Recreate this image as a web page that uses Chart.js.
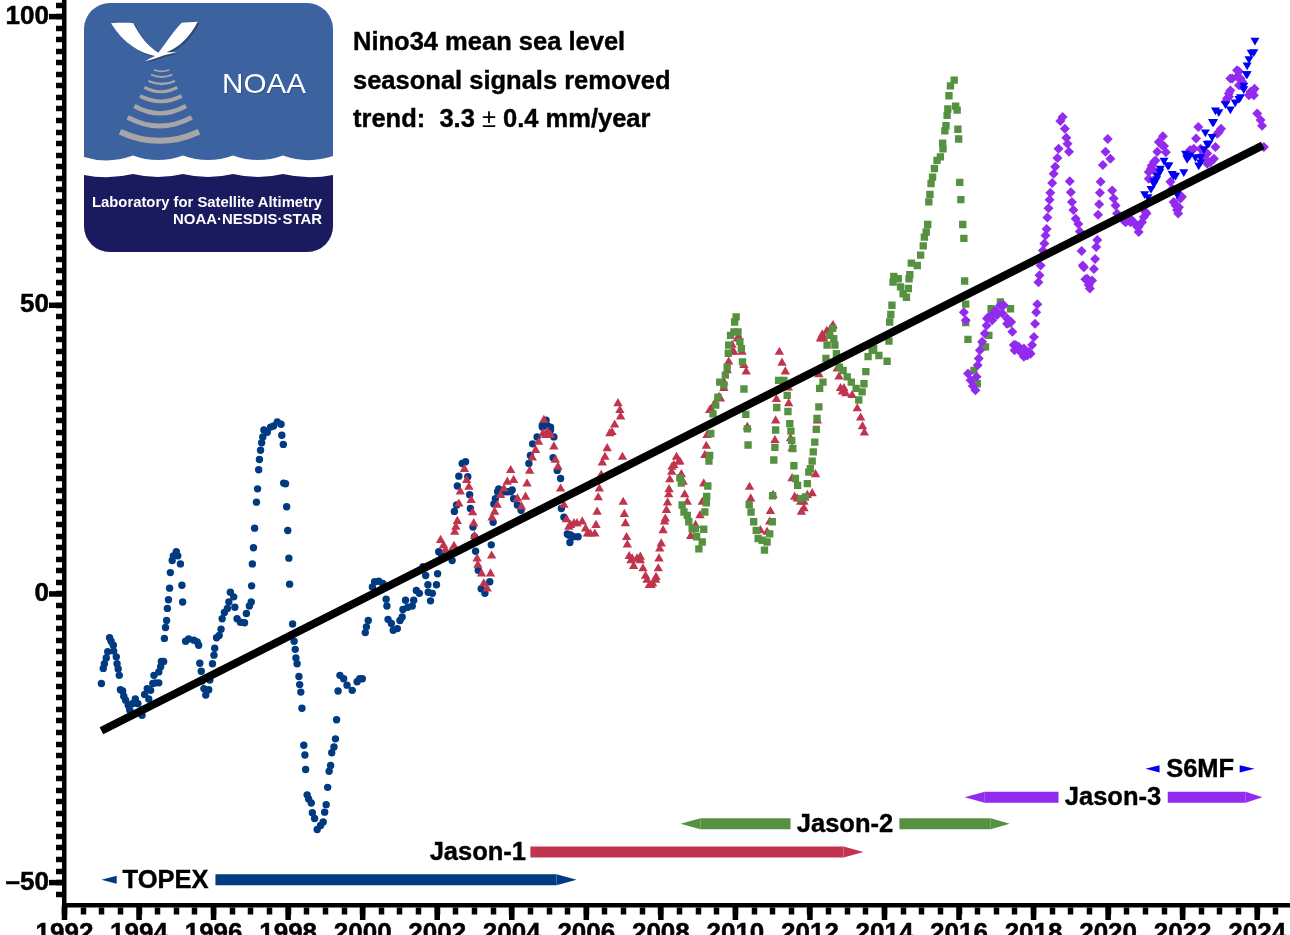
<!DOCTYPE html>
<html><head><meta charset="utf-8"><title>Nino34 mean sea level</title>
<script src="https://cdn.jsdelivr.net/npm/chart.js@4"></script>
<style>html,body{margin:0;padding:0;background:#fff;overflow:hidden}#wrap{position:relative;width:1290px;height:935px}svg{position:absolute;left:0;top:0;pointer-events:none}</style>
</head><body><div id="wrap"><canvas id="c"></canvas>
<svg width="1290" height="260" viewBox="0 0 1290 260">
<defs><clipPath id="lg"><rect x="84" y="3" width="249" height="249" rx="26"/></clipPath></defs>
<g clip-path="url(#lg)">
<rect x="84" y="3" width="249" height="249" fill="#3D62A0"/>
<path d="M84,157 Q108,164.5 133,155.5 Q158,164.5 183,155.5 Q208,164.5 233,155.5 Q258,164.5 283,155.5 Q308,164.5 333,156 L333,260 L84,260 Z" fill="#fff"/>
<path d="M84,175 Q108,180 133,174 Q158,180 183,174 Q208,180 233,174 Q258,180 283,174 Q308,180 333,175 L333,260 L84,260 Z" fill="#1A1A5E"/>
</g>
<g transform="scale(0.33333)">
<path d="M339,74 C366,72 391,72 406,74 C426,114 451,144 481,162 C496,144 521,104 551,72 L599,69 C576,114 546,144 506,161 L536,161 L501,169 C481,176 461,184 441,187 L471,172 C426,164 376,134 339,74 Z" fill="#1d3358" opacity=".55"/>
<path d="M333,70 C360,68 385,68 400,70 C420,110 445,140 475,158 C490,140 515,100 545,68 L593,65 C570,110 540,140 500,157 L530,157 L495,165 C475,172 455,180 435,183 L465,168 C420,160 370,130 333,70 Z" fill="#fff"/>
<g fill="none" stroke="#A6A6A6">
<path d="M462,209 Q485,219 508,209" stroke-width="5"/>
<path d="M453,224 Q485,238 517,224" stroke-width="6"/>
<path d="M445,243 Q485,261 525,243" stroke-width="7"/>
<path d="M433,262 Q483,288 532,262" stroke-width="9"/>
<path d="M420,288 Q483,320 545,288" stroke-width="11"/>
<path d="M403,318 Q480,362 558,318" stroke-width="13"/>
<path d="M383,352 Q479,404 575,352" stroke-width="15"/>
<path d="M360,395 Q478,450 597,395" stroke-width="18"/>
</g></g>
<text x="222" y="92.7" font-family="Liberation Sans" font-size="27.5" fill="#24406f" opacity=".6" textLength="84" lengthAdjust="spacingAndGlyphs" transform="translate(0.8,1)">NOAA</text>
<text x="222" y="92.7" font-family="Liberation Sans" font-size="27.5" fill="#fff" textLength="84" lengthAdjust="spacingAndGlyphs">NOAA</text>
<text x="92" y="206.5" font-family="Liberation Sans" font-weight="bold" font-size="14.2" fill="#fff" textLength="230" lengthAdjust="spacingAndGlyphs">Laboratory for Satellite Altimetry</text>
<text x="173" y="224" font-family="Liberation Sans" font-weight="bold" font-size="14.2" fill="#fff" textLength="149" lengthAdjust="spacingAndGlyphs">NOAA·NESDIS·STAR</text>
</svg></div>
<script>
const titleLines = ["Nino34 mean sea level","seasonal signals removed","trend:  3.3 ± 0.4 mm/year"];

const topex = [[1992.99,-15.5],[1993.04,-12.9],[1993.07,-12.1],[1993.12,-11.1],[1993.16,-10.0],[1993.21,-7.6],[1993.25,-8.2],[1993.31,-8.9],[1993.32,-9.9],[1993.39,-10.9],[1993.41,-12.1],[1993.44,-13.0],[1993.47,-14.1],[1993.50,-16.6],[1993.56,-16.8],[1993.59,-17.7],[1993.64,-18.4],[1993.71,-19.3],[1993.75,-20.1],[1993.82,-19.0],[1993.90,-18.2],[1993.97,-19.0],[1994.08,-21.0],[1994.15,-17.4],[1994.22,-16.4],[1994.26,-18.2],[1994.31,-16.7],[1994.37,-15.5],[1994.40,-14.1],[1994.44,-15.4],[1994.53,-15.4],[1994.53,-13.5],[1994.58,-12.6],[1994.60,-11.7],[1994.66,-11.7],[1994.68,-7.7],[1994.71,-5.8],[1994.74,-4.6],[1994.76,-2.5],[1994.79,-1.0],[1994.82,1.0],[1994.84,3.7],[1994.89,5.8],[1994.92,6.6],[1995.00,7.3],[1995.04,6.6],[1995.11,5.2],[1995.15,1.5],[1995.17,-1.4],[1995.25,-8.2],[1995.33,-7.8],[1995.47,-8.0],[1995.56,-8.3],[1995.60,-8.9],[1995.63,-12.0],[1995.67,-13.4],[1995.69,-15.1],[1995.74,-16.4],[1995.79,-17.5],[1995.87,-16.6],[1995.90,-14.9],[1995.97,-12.1],[1996.01,-10.6],[1996.03,-9.4],[1996.08,-7.6],[1996.15,-7.2],[1996.20,-6.1],[1996.23,-4.3],[1996.29,-3.2],[1996.37,-2.5],[1996.41,-1.4],[1996.45,0.3],[1996.54,-0.5],[1996.57,-2.3],[1996.63,-4.3],[1996.72,-4.9],[1996.83,-5.0],[1996.88,-3.4],[1996.96,-2.1],[1997.01,-1.4],[1997.02,1.4],[1997.04,5.2],[1997.07,8.0],[1997.10,11.4],[1997.15,15.9],[1997.18,18.2],[1997.21,21.5],[1997.23,23.3],[1997.26,24.9],[1997.29,26.2],[1997.32,27.2],[1997.35,28.4],[1997.44,28.0],[1997.53,28.9],[1997.61,29.1],[1997.71,29.8],[1997.81,29.4],[1997.83,27.5],[1997.87,25.9],[1997.88,19.2],[1997.93,19.1],[1997.96,15.1],[1997.99,11.0],[1998.02,6.2],[1998.04,1.7],[1998.12,-5.2],[1998.16,-8.2],[1998.19,-9.6],[1998.21,-11.1],[1998.24,-12.1],[1998.29,-14.3],[1998.31,-15.7],[1998.34,-17.0],[1998.37,-19.8],[1998.42,-26.2],[1998.45,-27.9],[1998.47,-30.4],[1998.51,-34.8],[1998.55,-35.5],[1998.62,-36.2],[1998.65,-37.9],[1998.71,-38.9],[1998.78,-40.8],[1998.87,-40.1],[1998.94,-39.5],[1998.98,-37.8],[1999.02,-36.5],[1999.06,-33.5],[1999.10,-30.7],[1999.14,-29.7],[1999.17,-27.5],[1999.23,-26.5],[1999.27,-25.1],[1999.30,-21.8],[1999.34,-16.8],[1999.39,-14.1],[1999.49,-14.7],[1999.58,-15.8],[1999.72,-16.7],[1999.85,-15.2],[1999.92,-14.7],[1999.99,-14.7],[2000.07,-6.7],[2000.10,-5.7],[2000.15,-4.6],[2000.26,1.2],[2000.32,2.1],[2000.43,2.2],[2000.54,1.8],[2000.63,-0.9],[2000.65,-2.1],[2000.68,-4.4],[2000.77,-5.1],[2000.82,-6.3],[2000.93,-6.0],[2001.00,-4.6],[2001.06,-4.0],[2001.08,-2.7],[2001.15,-1.1],[2001.21,-2.3],[2001.33,-2.1],[2001.37,-1.1],[2001.44,0.6],[2001.52,0.1],[2001.62,4.7],[2001.69,3.2],[2001.75,1.6],[2001.76,0.3],[2001.82,-1.2],[2001.87,0.1],[2001.98,1.6],[2002.01,3.5],[2002.04,7.3],[2002.10,7.0],[2002.20,6.5],[2002.40,5.8],[2002.46,14.3],[2002.52,15.4],[2002.54,18.7],[2002.58,20.4],[2002.67,22.6],[2002.76,22.9],[2002.82,20.3],[2002.87,17.2],[2002.89,14.8],[2002.96,11.6],[2003.00,9.9],[2003.03,7.4],[2003.10,4.1],[2003.18,0.9],[2003.28,0.1],[2003.41,2.1],[2003.45,8.5],[2003.50,12.4],[2003.52,15.6],[2003.56,16.5],[2003.62,17.7],[2003.65,18.2],[2003.74,17.7],[2003.79,17.7],[2003.88,17.7],[2003.97,17.7],[2004.01,18.0],[2004.05,16.5],[2004.15,15.4],[2004.25,14.5],[2004.46,22.6],[2004.50,24.0],[2004.56,26.0],[2004.68,27.2],[2004.82,28.9],[2004.82,29.2],[2004.92,30.1],[2004.95,29.2],[2005.04,28.9],[2005.04,28.4],[2005.13,27.2],[2005.11,23.6],[2005.22,21.4],[2005.31,20.0],[2005.33,14.8],[2005.40,13.3],[2005.49,10.4],[2005.53,10.2],[2005.56,8.9],[2005.58,10.2],[2005.66,9.9],[2005.78,9.9]];

const jason1 = [[2002.09,9.3],[2002.17,8.4],[2002.22,7.6],[2002.36,7.3],[2002.45,8.3],[2002.47,10.7],[2002.50,11.6],[2002.54,12.6],[2002.58,15.6],[2002.62,17.7],[2002.73,21.6],[2002.79,19.7],[2002.85,18.5],[2002.91,16.2],[2002.95,14.1],[2002.98,12.2],[2003.00,10.0],[2003.07,6.1],[2003.09,5.0],[2003.19,3.5],[2003.25,1.8],[2003.34,0.9],[2003.43,3.5],[2003.46,6.6],[2003.47,13.2],[2003.54,14.2],[2003.61,15.4],[2003.70,17.1],[2003.79,18.2],[2003.88,19.4],[2003.97,21.4],[2004.05,19.7],[2004.15,16.5],[2004.26,15.1],[2004.37,16.8],[2004.41,19.1],[2004.48,21.3],[2004.55,23.6],[2004.64,24.9],[2004.72,26.3],[2004.84,27.8],[2004.86,30.1],[2004.91,27.5],[2004.96,28.1],[2005.04,27.5],[2005.13,25.5],[2005.17,23.2],[2005.24,22.0],[2005.31,18.2],[2005.40,15.4],[2005.47,12.9],[2005.53,11.6],[2005.58,11.9],[2005.67,12.2],[2005.75,12.2],[2005.89,12.5],[2005.98,11.3],[2006.03,10.4],[2006.11,10.4],[2006.23,10.4],[2006.26,11.9],[2006.29,14.2],[2006.32,16.7],[2006.35,18.2],[2006.40,20.6],[2006.43,22.7],[2006.50,23.7],[2006.56,25.2],[2006.63,27.8],[2006.69,28.0],[2006.76,29.3],[2006.85,33.0],[2006.90,31.8],[2006.92,30.7],[2006.97,23.7],[2006.99,15.9],[2007.02,13.8],[2007.05,12.2],[2007.08,9.8],[2007.10,8.5],[2007.15,6.5],[2007.20,5.8],[2007.23,6.1],[2007.27,4.8],[2007.36,6.1],[2007.45,5.8],[2007.45,6.4],[2007.52,4.4],[2007.59,3.1],[2007.63,2.4],[2007.69,1.5],[2007.74,1.5],[2007.78,1.8],[2007.86,2.4],[2007.87,2.9],[2007.93,4.4],[2007.95,6.1],[2007.97,7.8],[2008.01,8.7],[2008.06,11.0],[2008.10,12.5],[2008.12,13.0],[2008.15,14.5],[2008.18,15.8],[2008.21,17.2],[2008.22,18.1],[2008.24,19.8],[2008.29,21.1],[2008.30,22.0],[2008.35,22.3],[2008.42,23.7],[2008.48,22.9],[2008.51,22.9],[2008.55,20.7],[2008.60,19.4],[2008.64,17.2],[2008.71,15.9],[2008.80,10.0],[2008.93,11.9],[2009.05,13.6],[2009.11,15.9],[2009.15,19.1],[2009.18,24.0],[2009.22,25.6],[2009.24,27.5],[2009.31,31.8],[2009.35,32.0],[2009.45,33.0],[2009.56,34.1],[2009.60,33.8],[2009.69,35.6],[2009.69,36.7],[2009.78,38.7],[2009.82,40.2],[2009.91,41.9],[2009.91,43.1],[2009.96,41.9],[2010.05,44.2],[2010.09,44.5],[2010.18,41.9],[2010.23,39.6],[2010.29,38.5],[2010.32,28.9],[2010.38,18.5],[2010.41,16.5],[2010.67,11.0],[2010.85,10.7],[2010.92,12.5],[2010.94,14.3],[2011.01,17.1],[2011.06,26.6],[2011.08,30.0],[2011.10,33.7],[2011.18,41.9],[2011.25,40.0],[2011.34,38.5],[2011.42,35.7],[2011.43,33.0],[2011.48,26.9],[2011.52,25.2],[2011.52,20.0],[2011.59,16.8],[2011.66,16.5],[2011.75,15.9],[2011.77,14.2],[2011.84,14.8],[2011.84,15.9],[2011.93,17.1],[2012.06,17.4],[2012.15,20.7],[2012.20,30.0],[2012.24,38.0],[2012.28,44.2],[2012.33,44.9],[2012.37,44.2],[2012.45,45.5],[2012.51,45.4],[2012.60,46.3],[2012.62,46.5],[2012.73,39.0],[2012.78,37.6],[2012.82,35.6],[2012.87,35.0],[2012.91,35.6],[2012.96,34.7],[2013.13,34.4],[2013.27,32.1],[2013.36,30.5],[2013.41,29.0],[2013.46,27.9]];

const jason2 = [[2008.51,20.1],[2008.55,19.2],[2008.57,15.4],[2008.62,14.2],[2008.71,13.6],[2008.75,12.5],[2008.84,11.3],[2008.93,11.3],[2008.96,9.9],[2009.02,7.8],[2009.11,9.0],[2009.15,11.2],[2009.18,14.2],[2009.22,15.8],[2009.23,16.9],[2009.26,18.7],[2009.29,23.0],[2009.31,24.0],[2009.34,27.8],[2009.40,31.2],[2009.47,32.7],[2009.53,34.1],[2009.58,36.7],[2009.69,36.2],[2009.73,37.9],[2009.78,39.3],[2009.81,41.7],[2009.82,43.1],[2009.87,44.8],[2009.96,45.4],[2009.98,47.1],[2010.02,48.0],[2010.07,45.4],[2010.12,43.7],[2010.16,42.5],[2010.19,40.2],[2010.23,35.5],[2010.28,31.1],[2010.32,28.6],[2010.34,25.8],[2010.37,15.5],[2010.42,14.2],[2010.49,12.5],[2010.56,11.0],[2010.61,9.6],[2010.72,9.3],[2010.78,7.6],[2010.85,9.0],[2010.92,10.4],[2010.99,12.5],[2011.00,17.0],[2011.03,23.2],[2011.06,25.4],[2011.08,28.4],[2011.11,32.3],[2011.16,37.0],[2011.30,37.0],[2011.39,34.4],[2011.41,31.6],[2011.46,29.5],[2011.49,28.2],[2011.51,26.6],[2011.54,25.2],[2011.57,22.2],[2011.61,20.0],[2011.67,18.8],[2011.75,16.5],[2011.88,16.8],[2011.93,19.1],[2011.97,21.1],[2012.01,21.7],[2012.06,23.0],[2012.09,24.6],[2012.13,26.3],[2012.17,28.5],[2012.19,30.4],[2012.24,32.4],[2012.26,35.6],[2012.35,36.7],[2012.43,40.8],[2012.46,43.1],[2012.53,44.8],[2012.61,46.0],[2012.64,44.2],[2012.67,43.1],[2012.71,41.6],[2012.79,39.3],[2012.89,38.7],[2013.00,37.6],[2013.11,36.7],[2013.24,35.6],[2013.31,33.6],[2013.40,35.0],[2013.45,36.4],[2013.50,38.5],[2013.56,41.1],[2013.67,42.2],[2013.71,42.5],[2013.85,41.3],[2014.07,40.3],[2014.12,43.8],[2014.14,47.1],[2014.17,48.4],[2014.20,50.0],[2014.23,54.0],[2014.25,55.0],[2014.37,54.6],[2014.43,53.2],[2014.50,52.0],[2014.59,51.4],[2014.64,52.9],[2014.66,54.6],[2014.68,55.3],[2014.72,57.3],[2014.88,56.9],[2014.97,58.7],[2015.04,60.3],[2015.07,61.8],[2015.12,62.7],[2015.16,64.0],[2015.19,67.9],[2015.22,69.2],[2015.25,71.1],[2015.29,72.2],[2015.34,73.7],[2015.41,75.1],[2015.50,75.7],[2015.57,77.1],[2015.56,78.1],[2015.62,80.2],[2015.65,81.1],[2015.68,82.9],[2015.70,84.0],[2015.73,86.3],[2015.77,88.0],[2015.87,89.0],[2015.91,84.5],[2015.95,83.8],[2015.97,80.5],[2015.99,78.8],[2016.02,71.3],[2016.05,68.3],[2016.10,64.0],[2016.13,61.6],[2016.15,54.2],[2016.18,50.2],[2016.18,47.0],[2016.24,44.1],[2016.40,38.7],[2016.49,36.4],[2016.63,42.8],[2016.71,42.8],[2016.80,44.8],[2016.86,49.4],[2017.11,50.6],[2017.33,46.8],[2017.38,49.4]];

const jason3 = [[2016.13,48.8],[2016.18,47.4],[2016.24,38.2],[2016.31,37.0],[2016.37,36.0],[2016.44,35.3],[2016.47,37.6],[2016.50,39.6],[2016.53,40.8],[2016.56,42.2],[2016.62,43.7],[2016.69,45.1],[2016.74,46.5],[2016.75,47.7],[2016.80,48.0],[2016.89,47.4],[2016.89,48.3],[2016.98,49.1],[2017.02,48.3],[2017.11,50.0],[2017.16,48.6],[2017.20,50.0],[2017.29,46.8],[2017.29,47.7],[2017.40,47.1],[2017.43,45.4],[2017.47,43.1],[2017.49,42.2],[2017.52,43.1],[2017.60,42.8],[2017.65,41.9],[2017.74,41.1],[2017.74,42.5],[2017.83,41.3],[2017.88,41.9],[2017.92,41.6],[2017.96,43.1],[2018.01,44.5],[2018.04,46.8],[2018.07,48.8],[2018.10,50.2],[2018.13,54.0],[2018.16,55.2],[2018.19,56.9],[2018.25,59.5],[2018.29,60.7],[2018.32,62.1],[2018.35,63.2],[2018.37,65.2],[2018.40,66.8],[2018.43,68.3],[2018.45,69.5],[2018.50,71.2],[2018.54,72.8],[2018.58,74.0],[2018.64,75.5],[2018.67,77.1],[2018.72,81.9],[2018.78,82.6],[2018.84,80.6],[2018.88,79.0],[2018.91,78.0],[2018.95,76.6],[2018.97,71.5],[2019.00,69.6],[2019.03,67.9],[2019.07,66.5],[2019.13,65.0],[2019.20,64.1],[2019.24,62.8],[2019.29,59.4],[2019.32,56.9],[2019.35,56.6],[2019.39,54.5],[2019.44,54.6],[2019.48,53.5],[2019.51,52.9],[2019.57,54.3],[2019.62,56.3],[2019.65,58.0],[2019.68,60.1],[2019.71,61.3],[2019.73,65.7],[2019.76,67.5],[2019.78,69.5],[2019.80,71.4],[2019.86,74.3],[2019.93,76.6],[2019.99,78.8],[2020.06,75.4],[2020.11,69.9],[2020.15,68.5],[2020.20,67.3],[2020.24,65.9],[2020.42,64.7],[2020.47,64.4],[2020.60,64.4],[2020.60,65.0],[2020.69,64.4],[2020.78,63.6],[2020.82,62.7],[2020.82,63.6],[2020.91,64.4],[2020.96,65.3],[2021.00,66.2],[2021.03,65.9],[2021.08,67.9],[2021.09,71.9],[2021.09,73.1],[2021.15,73.7],[2021.17,74.2],[2021.23,74.8],[2021.27,73.1],[2021.27,75.1],[2021.32,76.6],[2021.36,78.3],[2021.45,77.7],[2021.47,79.3],[2021.50,77.6],[2021.55,76.5],[2021.67,71.4],[2021.72,70.2],[2021.76,67.9],[2021.81,67.3],[2021.85,69.6],[2021.85,66.5],[2021.88,65.9],[2021.90,67.0],[2021.94,68.5],[2021.98,68.8],[2022.12,76.0],[2022.20,76.9],[2022.30,77.1],[2022.36,78.9],[2022.42,80.9],[2022.48,77.1],[2022.52,76.0],[2022.57,75.7],[2022.66,76.3],[2022.66,74.5],[2022.70,74.8],[2022.75,74.8],[2022.84,75.4],[2022.88,77.4],[2022.93,79.7],[2022.97,80.0],[2023.03,80.6],[2023.15,85.2],[2023.19,85.8],[2023.24,86.1],[2023.24,86.7],[2023.28,87.2],[2023.28,89.3],[2023.33,89.3],[2023.46,89.6],[2023.46,90.7],[2023.51,90.5],[2023.51,88.1],[2023.55,88.1],[2023.55,89.3],[2023.60,88.7],[2023.78,86.4],[2023.82,86.7],[2023.82,87.0],[2023.87,87.0],[2023.91,86.4],[2023.93,87.5],[2024.00,83.2],[2024.09,82.1],[2024.13,81.1],[2024.18,77.4]];

const s6mf = [[2020.98,69.3],[2021.07,68.8],[2021.15,70.2],[2021.23,71.1],[2021.23,71.6],[2021.30,71.9],[2021.32,72.5],[2021.39,73.2],[2021.40,73.7],[2021.50,75.1],[2021.60,74.3],[2021.63,74.3],[2021.72,72.8],[2021.76,72.5],[2021.81,72.5],[2021.85,69.3],[2022.03,73.1],[2022.08,76.3],[2022.12,75.4],[2022.19,76.0],[2022.34,75.7],[2022.43,74.3],[2022.48,74.8],[2022.48,75.7],[2022.57,77.1],[2022.61,80.0],[2022.66,78.0],[2022.70,78.1],[2022.79,79.2],[2022.80,81.8],[2022.83,81.8],[2022.88,83.8],[2022.97,83.5],[2023.15,84.9],[2023.28,84.0],[2023.41,85.2],[2023.51,85.8],[2023.55,86.1],[2023.64,87.5],[2023.64,88.1],[2023.71,90.1],[2023.73,90.1],[2023.73,91.6],[2023.78,92.7],[2023.84,93.8],[2023.91,93.9],[2023.94,95.9]];

const trendYears = [1992.99, 2024.15];
const trendValues = [-23.7, 77.7];

const missionNames  = ["TOPEX","Jason-1","Jason-2","Jason-3","S6MF"];
const missionColors = ["#003A80","#C1344E","#559140","#922BEE","#0000F0"];
const missionRowValue = [-49.5,-44.7,-39.8,-35.2,-30.3];
const missionLabelYear = [1994.71,2003.09,2012.94,2020.13,2022.47];
/* mission index, from year, to year */
const missionBars = [[0,1996.05,2005.20],[1,2004.50,2012.90],[2,2009.06,2011.48],[2,2014.40,2016.85],[3,2016.69,2018.67],[3,2021.60,2023.69]];
/* mission index, base year, tip year */
const missionArrows = [[0,1993.40,1992.99],[0,2005.20,2005.74],[1,2012.90,2013.44],[2,2009.06,2008.53],[2,2016.85,2017.36],[3,2016.69,2016.15],[3,2023.69,2024.14],[4,2021.38,2021.00],[4,2023.53,2023.93]];

const xMin=1992,xMax=2024.88,yMin=-53.88,yMax=102.88;
const pts=a=>a.map(p=>({x:p[0],y:p[1]}));
const markers=(name,data,style,r,color,order,extra)=>Object.assign({label:name,data:pts(data),showLine:false,pointStyle:style,pointRadius:r,pointBackgroundColor:color,pointBorderWidth:0,order},extra||{});
const datasets=[
  {label:'trend',data:trendYears.map((y,i)=>({x:y,y:trendValues[i]})),showLine:true,borderColor:'#000',borderWidth:8,pointRadius:0,order:0},
  markers('TOPEX',topex,'circle',3.7,missionColors[0],5),
  markers('Jason-1',jason1,'triangle',5.4,missionColors[1],4),
  markers('Jason-2',jason2,'rect',5.2,missionColors[2],3),
  markers('Jason-3',jason3,'rectRot',5,missionColors[3],2),
  markers('S6MF',s6mf,'triangle',5.2,missionColors[4],1,{pointRotation:180}),
];
missionBars.forEach(b=>datasets.push({label:missionNames[b[0]]+' span',data:[{x:b[1],y:missionRowValue[b[0]]},{x:b[2],y:missionRowValue[b[0]]}],showLine:true,borderColor:missionColors[b[0]],borderWidth:11,borderCapStyle:'butt',pointRadius:0,order:6}));

const font=(s)=>`bold ${s}px "Liberation Sans", Arial, sans-serif`;
const decor={id:'decor',afterDraw(ch){
  const c=ch.ctx,X=ch.scales.x,Y=ch.scales.y;
  c.save();c.fillStyle='#000';
  X.ticks.forEach(t=>{if(t.value%2===0){const p=X.getPixelForValue(t.value);c.fillRect(p-2.75,905,5.5,15);}});
  Y.ticks.forEach(t=>{if(t.value%50===0){const p=Y.getPixelForValue(t.value);c.fillRect(49,p-2.75,15.5,5.5);}});
  missionArrows.forEach(a=>{const i=a[0],h=i===4||(i===0&&a[2]<a[1])?(i===4?3.7:4):5.5,y=Y.getPixelForValue(missionRowValue[i]),b=X.getPixelForValue(a[1]),t=X.getPixelForValue(a[2]);
    c.fillStyle=missionColors[i];c.beginPath();c.moveTo(b,y-h);c.lineTo(t,y);c.lineTo(b,y+h);c.closePath();c.fill();});
  c.fillStyle='#000';c.strokeStyle='#000';c.lineWidth=0.4;c.font=font(25.5);c.textAlign='center';c.textBaseline='middle';
  missionNames.forEach((n,i)=>{const px=X.getPixelForValue(missionLabelYear[i]),py=Y.getPixelForValue(missionRowValue[i])+1;c.fillText(n,px,py);c.strokeText(n,px,py);});
  c.textAlign='left';c.textBaseline='alphabetic';
  [50,89,127].forEach((b,i)=>{let x=353;titleLines[i].split(/(±)/).forEach(part=>{const plain=part==='±';c.font=plain?'25.5px "Liberation Sans", Arial, sans-serif':font(25.5);c.fillText(part,x,b);if(!plain)c.strokeText(part,x,b);x+=c.measureText(part).width;});});
  c.restore();
}};
const noPad=s=>{s.paddingTop=0;s.paddingBottom=0;s.paddingLeft=0;s.paddingRight=0;};

new Chart(document.getElementById('c'),{type:'scatter',data:{datasets},plugins:[decor],options:{
  responsive:true,maintainAspectRatio:false,animation:false,devicePixelRatio:1,
  layout:{autoPadding:false,padding:0},
  plugins:{legend:{display:false},tooltip:{enabled:false},title:{display:false}},
  scales:{
    x:{type:'linear',min:xMin,max:xMax,afterFit(s){s.height=30;noPad(s);},
       border:{display:true,color:'#000',width:4.5},
       grid:{drawOnChartArea:false,drawTicks:true,tickLength:9.5,tickWidth:5.5,tickColor:'#000'},
       ticks:{stepSize:0.5,autoSkip:false,maxRotation:0,minRotation:0,includeBounds:false,padding:4,color:'#000',textStrokeColor:'#000',textStrokeWidth:0.5,font:{family:'"Liberation Sans"',size:26,weight:'bold'},callback:v=>v%2===0?String(v):''}},
    y:{type:'linear',min:yMin,max:yMax,afterFit(s){s.width=64.5;noPad(s);},
       border:{display:true,color:'#000',width:4.5},
       grid:{drawOnChartArea:false,drawTicks:true,tickLength:8.5,tickWidth:5.5,tickColor:'#000'},
       ticks:{stepSize:2,autoSkip:false,includeBounds:false,padding:7,color:'#000',textStrokeColor:'#000',textStrokeWidth:0.5,font:{family:'"Liberation Sans"',size:26,weight:'bold'},callback:v=>v%50===0?(v<0?'–'+Math.abs(v):String(v)):''}}
  }}});
</script></body></html>
